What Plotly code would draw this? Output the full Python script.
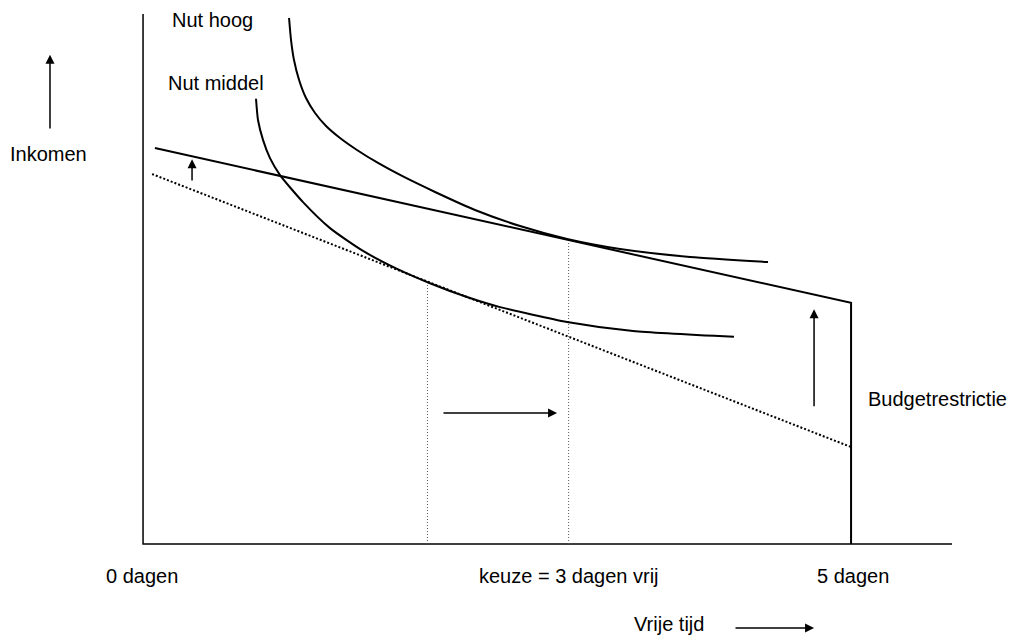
import plotly.graph_objects as go

# x: vrije tijd in dagen, y: inkomen (arbitrary units, 0..100)
nut_hoog_x = [1.02, 1.034, 1.055, 1.091, 1.14, 1.204, 1.282, 1.381, 1.501, 1.65, 1.834, 2.054, 2.337, 2.656, 2.989, 3.364, 3.86, 4.412]
nut_hoog_y = [99.25, 95.09, 91.32, 87.55, 84.15, 81.32, 78.87, 76.6, 74.34, 71.89, 69.25, 66.42, 63.02, 59.99, 57.55, 55.66, 54.15, 53.21]

nut_middel_x = [0.786, 0.80, 0.836, 0.885, 0.956, 1.119, 1.31, 1.544, 1.785, 2.018, 2.28, 2.514, 2.989, 3.456, 4.171]
nut_middel_y = [84.0, 80.0, 76.2, 72.8, 69.6, 64.5, 59.6, 55.3, 51.9, 49.2, 46.6, 44.7, 41.9, 40.2, 39.1]

budget_new_x = [0.07, 5.0, 5.0]
budget_new_y = [74.7, 45.5, 0.0]

budget_old_x = [0.05, 5.0]
budget_old_y = [69.8, 18.3]

keuze_x = [2.0, 3.0]
keuze_y = [49.5, 57.4]

axis_x = [-0.014, -0.014, 5.715]
axis_y = [100.0, 0.0, 0.0]

# label, x, y
labels = [
    ("Nut hoog", 0.177, 98.9),
    ("Nut middel", 0.149, 86.9),
    ("Inkomen", -0.97, 73.5),
    ("Budgetrestrictie", 5.106, 27.3),
    ("0 dagen", -0.29, -6.0),
    ("keuze = 3 dagen vrij", 2.351, -6.0),
    ("5 dagen", 4.745, -6.0),
    ("Vrije tijd", 3.449, -15.1),
]

# arrows: (x_from, y_from, x_to, y_to)
arrows = [
    (0.333, 68.3, 0.333, 72.6),
    (4.738, 25.7, 4.738, 44.3),
    (2.103, 24.7, 2.918, 24.7),
    (-0.673, 78.1, -0.673, 92.3),
    (4.171, -15.85, 4.738, -15.85),
]

fig = go.Figure()
fig.add_trace(go.Scatter(x=axis_x, y=axis_y, mode='lines', line=dict(color='black', width=1.5)))
for xv, yv in zip(keuze_x, keuze_y):
    fig.add_trace(go.Scatter(x=[xv, xv], y=[0, yv], mode='lines', line=dict(color='#555555', width=1, dash='1px,2px')))
fig.add_trace(go.Scatter(x=budget_old_x, y=budget_old_y, mode='lines', line=dict(color='black', width=2, dash='2px,2px')))
fig.add_trace(go.Scatter(x=budget_new_x, y=budget_new_y, mode='lines', line=dict(color='black', width=2)))
fig.add_trace(go.Scatter(x=nut_hoog_x, y=nut_hoog_y, mode='lines', line=dict(color='black', width=2, shape='spline', smoothing=0.6)))
fig.add_trace(go.Scatter(x=nut_middel_x, y=nut_middel_y, mode='lines', line=dict(color='black', width=2, shape='spline', smoothing=0.6)))

for txt, xv, yv in labels:
    fig.add_annotation(x=xv, y=yv, text=txt, showarrow=False, xanchor='left', yanchor='middle',
                       font=dict(family='Liberation Sans, Arial', size=20, color='black'))

for x0, y0, x1, y1 in arrows:
    fig.add_annotation(x=x1, y=y1, ax=x0, ay=y0, xref='x', yref='y', axref='x', ayref='y',
                       text='', showarrow=True, arrowhead=2, arrowsize=1.2, arrowwidth=1.5, arrowcolor='black')

fig.update_xaxes(range=[-1.027, 6.161], visible=False)
fig.update_yaxes(range=[-17.92, 102.64], visible=False)
fig.update_layout(width=1015, height=639, margin=dict(l=0, r=0, t=0, b=0), showlegend=False,
                  plot_bgcolor='white', paper_bgcolor='white')
fig.write_html("out.html", config={'displayModeBar': False}, post_script="document.body.style.margin='0';")
